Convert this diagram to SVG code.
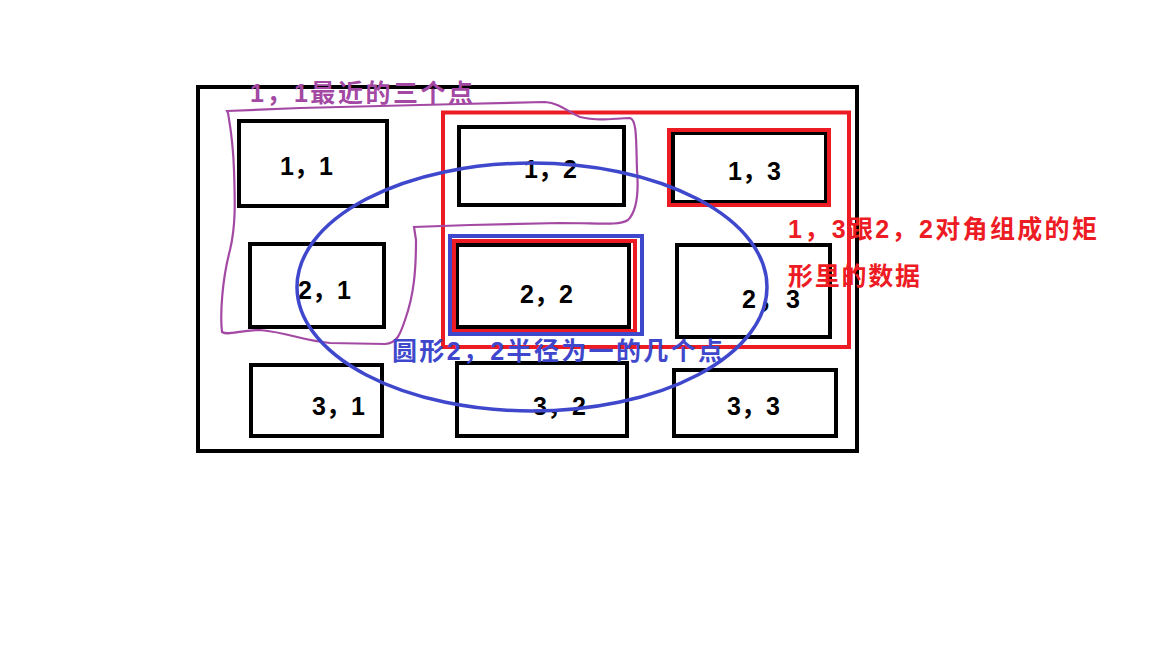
<svg xmlns="http://www.w3.org/2000/svg" width="1152" height="648" viewBox="0 0 1152 648">
<style>
.box{fill:none;stroke:#000;stroke-width:4}
.lbl{font-family:"Liberation Sans","Noto Sans CJK SC",sans-serif;font-weight:bold;font-size:25px;fill:#000}
.ann{font-family:"Liberation Sans","Noto Sans CJK SC",sans-serif;font-weight:bold;font-size:25px}
.red{stroke:#ed1c24;fill:none;stroke-width:4}
.blue{stroke:#3f48cc;fill:none;stroke-width:4}
</style>
<rect width="1152" height="648" fill="#fff"/>
<rect id="frame" x="198" y="87" width="659" height="364" class="box" stroke-width="4.5"/>
<g id="n11"><rect x="239" y="121" width="148" height="85" class="box"/><text class="lbl" x="280" y="175">1，1</text></g>
<g id="n12"><rect x="459" y="127" width="165" height="78" class="box"/><text class="lbl" x="524" y="178">1，2</text></g>
<g id="n13"><rect x="673" y="133" width="153" height="69" class="box" stroke-width="3"/><text class="lbl" x="728" y="180">1，3</text></g>
<g id="n21"><rect x="250" y="244" width="134" height="83" class="box"/><text class="lbl" x="298" y="299">2，1</text></g>
<g id="n22"><rect x="457" y="245" width="172" height="82" class="box" stroke-width="3"/><text class="lbl" x="520" y="303">2，2</text></g>
<g id="n23"><rect x="677" y="245" width="153" height="92" class="box"/><text class="lbl" x="742" y="308" textLength="58">2，3</text></g>
<g id="n31"><rect x="251" y="365" width="131" height="71" class="box"/><text class="lbl" x="312" y="415">3，1</text></g>
<g id="n32"><rect x="457" y="363" width="170" height="73" class="box"/><text class="lbl" x="533" y="415">3，2</text></g>
<g id="n33"><rect x="674" y="370" width="162" height="66" class="box"/><text class="lbl" x="727" y="415">3，3</text></g>
<g id="connectors">
<rect x="443" y="112.5" width="406" height="234.5" class="red"/>
<rect x="669" y="130" width="160" height="75" class="red"/>
<rect x="454" y="241" width="181" height="90" class="red"/>
<rect x="450" y="236" width="192" height="98" class="blue"/>
<path d="M227,111 L300,108 L460,104 L545,102 C560,103 568,112 580,117 C600,122 615,118 630,118 C637,120 636,140 637,170 C639,195 636,212 628,220 C618,226 600,223 560,223 L470,225 L414,227 L416,240 C416,270 414,295 405,320 C400,335 397,343 385,344 L330,343 C300,340 290,333 260,330 C240,330 228,336 222,332 C220,315 222,280 230,250 C236,225 235,200 234,170 C233,140 230,125 228,113 Z" fill="none" stroke="#a349a4" stroke-width="2.2"/>
<ellipse cx="532" cy="287" rx="235" ry="124" fill="none" stroke="#3f48cc" stroke-width="3.5"/>
</g>
<g id="annotations">
<text class="ann" fill="#a349a4" x="250" y="102" textLength="223">1，1最近的三个点</text>
<text class="ann" fill="#ed1c24" x="788" y="238" textLength="309">1，3跟2，2对角组成的矩</text>
<text class="ann" fill="#ed1c24" x="788" y="285" textLength="132">形里的数据</text>
<text class="ann" fill="#3f48cc" x="392" y="360" textLength="331">圆形2，2半径为一的几个点</text>
</g>
</svg>
